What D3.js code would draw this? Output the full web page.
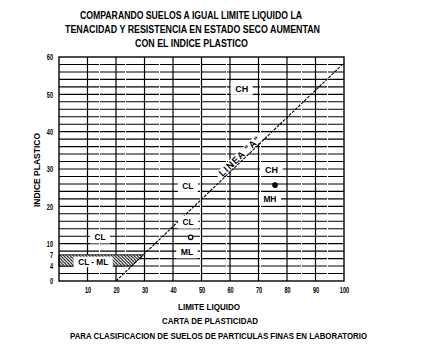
<!DOCTYPE html>
<html><head><meta charset="utf-8">
<script src="https://cdn.jsdelivr.net/npm/d3@7"></script>
<style>html,body{margin:0;padding:0;background:#fff;}svg{display:block;}</style>
</head><body>
<script>
// ---- data ----
const titleLines = ["COMPARANDO SUELOS A IGUAL LIMITE LIQUIDO LA",
  "TENACIDAD Y RESISTENCIA EN ESTADO SECO AUMENTAN",
  "CON EL INDICE PLASTICO"];
const xTitle = "LIMITE LIQUIDO";
const subTitles = ["CARTA DE PLASTICIDAD",
  "PARA CLASIFICACION DE SUELOS DE PARTICULAS  FINAS EN LABORATORIO"];
const yTitle = "INDICE PLASTICO";
const xTicks = [10,20,30,40,50,60,70,80,90,100];
const yTicks = [0,4,7,10,20,30,40,50,60];
const zoneLabels = ["CH","CH","MH","CL","CL","ML","CL","CL - ML"];
const zoneLL     = [64.1, 74.6, 74.0, 45.2, 45.3, 44.9, 14.4, 12.0];
const zonePI     = [51.6, 29.9, 22.0, 25.6, 15.8, 7.8, 11.8, 5.1];
const pointLL = [46.2, 75.8];
const pointPI = [11.7, 25.7];
const aLineSlope = 0.73, aLineOrigin = 20;   // PI = 0.73 (LL - 20)
const clmlBand = [4, 7];
const aLineLabel = 'LINEA "A"';

// ---- layout ----
const W = 432, H = 361;
const font = "'Liberation Sans Narrow','Liberation Sans',Arial,sans-serif";
const svg = d3.select("body").append("svg").attr("width", W).attr("height", H);
const x = d3.scaleLinear().domain([0,100]).range([59,344]);
const y = d3.scaleLinear().domain([0,60]).range([281,57]);

function txt(s, cx, base, len, size, g) {
  return (g||svg).append("text").attr("x", cx).attr("y", base)
    .attr("text-anchor","middle").attr("font-family",font)
    .attr("font-size",size).attr("font-weight","bold").attr("fill","#000")
    .attr("textLength",len).attr("lengthAdjust","spacingAndGlyphs").text(s);
}

// titles
txt(titleLines[0], 191, 19, 222, 10.5);
txt(titleLines[1], 192.5, 33.3, 255, 10.5);
txt(titleLines[2], 191.5, 47.2, 113, 10.5);
txt(xTitle, 209, 309.5, 62, 9.5);
txt(subTitles[0], 210, 324, 96, 9.5);
txt(subTitles[1], 218.5, 339.3, 297, 9.5);
svg.append("text").attr("transform","translate(40,170) rotate(-90)")
  .attr("text-anchor","middle").attr("font-family",font).attr("font-size",9.5)
  .attr("font-weight","bold").attr("fill","#000")
  .attr("textLength",74).attr("lengthAdjust","spacingAndGlyphs")
  .text(yTitle);

// hatch pattern
const defs = svg.append("defs");
const pat = defs.append("pattern").attr("id","hatch").attr("patternUnits","userSpaceOnUse")
  .attr("width",3.2).attr("height",3.2);
pat.append("rect").attr("width",3.2).attr("height",3.2).attr("fill","#fff");
pat.append("path").attr("d","M-1,-1 L4.2,4.2 M-1,2.2 L1,4.2 M2.2,-1 L4.2,1")
  .attr("stroke","#111").attr("stroke-width",1);

const plot = svg.append("g");
plot.append("rect").attr("x",x(0)).attr("y",y(60)).attr("width",x(100)-x(0))
  .attr("height",y(0)-y(60)).attr("fill","#fff");

// horizontal grid every 2
plot.selectAll("line.h").data(d3.range(2,60,2)).join("line").attr("class","h")
  .attr("x1",x(0)).attr("x2",x(100)).attr("y1",d=>y(d)).attr("y2",d=>y(d))
  .attr("stroke","#000").attr("stroke-width",1.1)
  .attr("stroke-dasharray","40,1,25,1,33,1");
// vertical grid every 10
plot.selectAll("line.v").data(d3.range(10,100,10)).join("line").attr("class","v")
  .attr("x1",d=>x(d)).attr("x2",d=>x(d)).attr("y1",y(0)).attr("y2",y(60))
  .attr("stroke","#000").attr("stroke-width",1.2);

// CL-ML hatched band up to A-line
const llAt = pi => aLineOrigin + pi/aLineSlope;
plot.append("path")
  .attr("d", `M${x(0)},${y(clmlBand[1])} L${x(llAt(clmlBand[1]))},${y(clmlBand[1])} L${x(llAt(clmlBand[0]))},${y(clmlBand[0])} L${x(0)},${y(clmlBand[0])} Z`)
  .attr("fill","url(#hatch)").attr("stroke","#000").attr("stroke-width",0.9);

// A-line
const a0 = [aLineOrigin, 0], a1 = [100, aLineSlope*(100-aLineOrigin)];
plot.append("line").attr("x1",x(a0[0])).attr("y1",y(a0[1]))
  .attr("x2",x(a1[0])).attr("y2",y(a1[1]))
  .attr("stroke","#000").attr("stroke-width",1.1).attr("stroke-dasharray","3,1.2");

// A-line label
const labLL = 64.6, labPI = aLineSlope*(labLL-aLineOrigin);
const ang = Math.atan2(y(labPI+10)-y(labPI), x(labLL+10/aLineSlope)-x(labLL))*180/Math.PI;
const lg = plot.append("g").attr("transform",`translate(${x(labLL)},${y(labPI)}) rotate(${ang})`);
lg.append("rect").attr("x",-30).attr("y",-9).attr("width",60).attr("height",8).attr("fill","#fff");
txt(aLineLabel, 0, -1.5, 54, 9.5, lg).attr("letter-spacing",1);

// zone labels with white boxes
const widths = {"CH":13,"CL":11,"ML":12.5,"MH":13,"CL - ML":30};
zoneLabels.forEach((s,i) => {
  const cx = x(zoneLL[i]), cy = y(zonePI[i]);
  const w = widths[s] + 9, h = s === "CL - ML" ? 10.5 : 13;
  plot.append("rect").attr("x",cx-w/2).attr("y",cy-h/2).attr("width",w).attr("height",h).attr("fill","#fff");
  txt(s, cx, cy+3.4, widths[s], 9.5, plot);
});

// points
plot.selectAll("circle.p").data(pointLL).join("circle").attr("class","p")
  .attr("cx",(d)=>x(d)).attr("cy",(d,i)=>y(pointPI[i])).attr("r",2.2)
  .attr("fill",(d,i)=> i===0 ? "#fff" : "#000").attr("stroke","#000").attr("stroke-width",1.3);

// border
plot.append("rect").attr("x",x(0)).attr("y",y(60)).attr("width",x(100)-x(0))
  .attr("height",y(0)-y(60)).attr("fill","none").attr("stroke","#000").attr("stroke-width",1.4);

// axes
const ya = svg.append("g").attr("transform",`translate(${x(0)},0)`)
  .call(d3.axisLeft(y).tickValues(yTicks).tickSize(0).tickPadding(6));
const xa = svg.append("g").attr("transform",`translate(0,${y(0)})`)
  .call(d3.axisBottom(x).tickValues(xTicks).tickSize(0).tickPadding(6));
[ya, xa].forEach(g => {
  g.select(".domain").remove();
  g.selectAll("text").attr("font-family",font).attr("font-size",9).attr("font-weight","bold").attr("fill","#000")
    .attr("textLength", function(){ return this.textContent.length*3.1; })
    .attr("lengthAdjust","spacingAndGlyphs");
});
</script>
</body></html>
